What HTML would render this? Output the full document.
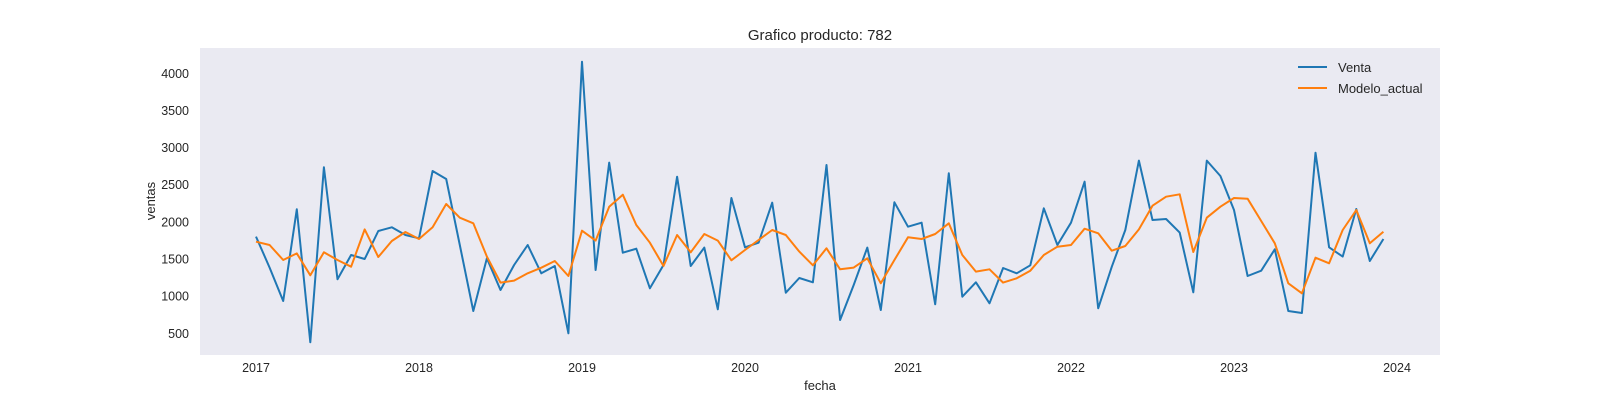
<!DOCTYPE html>
<html><head><meta charset="utf-8"><style>
body{margin:0;background:#fff;}
svg{display:block;font-family:"Liberation Sans",Arial,sans-serif;}
</style></head><body>
<svg id="chart" width="1600" height="400" xmlns="http://www.w3.org/2000/svg">
<rect x="200" y="48" width="1240" height="307" fill="#EAEAF2"/>
<text x="820" y="40" text-anchor="middle" font-size="15" fill="#262626">Grafico producto: 782</text>
<text x="820" y="390" text-anchor="middle" font-size="13" fill="#262626">fecha</text>
<text transform="translate(155,201) rotate(-90)" text-anchor="middle" font-size="13" fill="#262626">ventas</text>
<g id="xt"></g><g id="yt"></g><g id="series"></g>
<g>
<line x1="1298" y1="67" x2="1327" y2="67" stroke="#1f77b4" stroke-width="2"/>
<text x="1338" y="72" font-size="13" fill="#262626">Venta</text>
<line x1="1298" y1="88" x2="1327" y2="88" stroke="#ff7f0e" stroke-width="2"/>
<text x="1338" y="93" font-size="13" fill="#262626">Modelo_actual</text>
</g>
</svg>
<script>
const yearTicks=[2017,2018,2019,2020,2021,2022,2023,2024];
const yTicks=[500,1000,1500,2000,2500,3000,3500,4000];
const startYear=2017;
const venta=[1801,1384,935,2169,379,2734,1227,1554,1500,1877,1926,1823,1778,2685,2577,1689,800,1509,1083,1419,1689,1307,1406,500,4156,1352,2797,
1585,1639,1105,1419,2608,1406,1653,823,2321,1657,1720,2258,1047,1244,1186,2765,679,1150,1653,814,2263,1935,1989,890,
2653,993,1186,904,1379,1307,1415,2182,1689,1989,2541,836,1397,1890,2824,2025,2038,1855,1052,2824,2617,2160,1271,1343,1630,800,773,2931,1657,1532,2173,1473,1769];
const modelo=[1733,1689,1487,1576,1280,1590,1487,1397,1899,1527,1742,1864,1769,1926,2240,2056,1980,1532,1182,1209,1307,1383,1473,1271,1881,1747,2204,
2366,1958,1720,1406,1823,1590,1837,1747,1482,1621,1756,1890,1823,1599,1415,1644,1361,1384,1509,1173,1487,1792,1769,1837,
1980,1554,1330,1361,1182,1240,1343,1554,1666,1689,1908,1846,1612,1675,1899,2218,2339,2371,1594,2056,2204,2321,2312,2012,1711,1173,1038,1518,1442,1890,2160,1711,1868];
const NS="http://www.w3.org/2000/svg";
function xS(m){return 256+m*163/12;}
function yS(v){return 333.3-(v-500)*0.0743;}
const xt=document.getElementById('xt');
yearTicks.forEach(y=>{const t=document.createElementNS(NS,'text');
t.setAttribute('x',xS((y-startYear)*12));t.setAttribute('y',372);t.setAttribute('text-anchor','middle');
t.setAttribute('font-size','12.5');t.setAttribute('fill','#262626');t.textContent=y;


xt.appendChild(t);});
const yt=document.getElementById('yt');
yTicks.forEach(v=>{const t=document.createElementNS(NS,'text');
t.setAttribute('x',189);t.setAttribute('y',yS(v)+4.5);t.setAttribute('text-anchor','end');
t.setAttribute('font-size','12.5');t.setAttribute('fill','#262626');t.textContent=v;


yt.appendChild(t);});
const sg=document.getElementById('series');
function line(arr,color,name){const p=document.createElementNS(NS,'polyline');
p.setAttribute('points',arr.map((v,i)=>xS(i).toFixed(1)+','+yS(v).toFixed(1)).join(' '));
p.setAttribute('fill','none');p.setAttribute('stroke',color);p.setAttribute('stroke-width','2');p.setAttribute('stroke-linejoin','round');


sg.appendChild(p);}
line(venta,'#1f77b4','venta-line');
line(modelo,'#ff7f0e','modelo-actual-line');
</script>
</body></html>
